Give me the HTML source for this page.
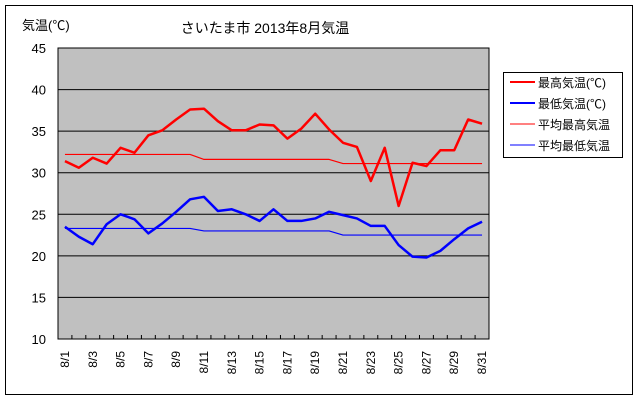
<!DOCTYPE html>
<html><head><meta charset="utf-8"><style>
body{margin:0;background:#fff;}
svg{display:block;font-family:"Liberation Sans","Noto Sans CJK JP",sans-serif;}
</style></head><body>
<svg id="chart" width="640" height="400">
<rect x="5.5" y="5.5" width="627" height="389" fill="#fff" stroke="#000"/>
<text x="265" y="33" font-size="14" text-anchor="middle">さいたま市 2013年8月気温</text>
<text x="22" y="30" font-size="13">気温(℃)</text>
<rect x="58" y="48" width="431" height="291" fill="#c0c0c0"/>
<g id="grid"></g><g id="series"></g><g id="axes"></g>
<g>
<rect x="503.5" y="72.5" width="119" height="85" fill="#fff" stroke="#000"/>
<line x1="510" y1="82" x2="535" y2="82" stroke="#ff0000" stroke-width="2"/>
<text x="538" y="87" font-size="12">最高気温(℃)</text>
<line x1="510" y1="103" x2="535" y2="103" stroke="#0000ff" stroke-width="2"/>
<text x="538" y="108" font-size="12">最低気温(℃)</text>
<line x1="510" y1="124" x2="535" y2="124" stroke="#ff0000" stroke-width="1"/>
<text x="538" y="129" font-size="12">平均最高気温</text>
<line x1="510" y1="145" x2="535" y2="145" stroke="#0000ff" stroke-width="1"/>
<text x="538" y="150" font-size="12">平均最低気温</text>
</g>
</svg>
<script>
const days=[];for(let i=1;i<=31;i++)days.push('8/'+i);
const maxTemp=[31.4,30.6,31.8,31.1,33.0,32.4,34.5,35.1,36.4,37.6,37.7,36.2,35.1,35.1,35.8,35.7,34.1,35.3,37.1,35.2,33.6,33.1,29.0,33.0,26.0,31.2,30.8,32.7,32.7,36.4,35.9];
const minTemp=[23.5,22.3,21.4,23.8,25.0,24.4,22.7,23.9,25.3,26.8,27.1,25.4,25.6,25.0,24.2,25.6,24.2,24.2,24.5,25.3,24.9,24.5,23.6,23.6,21.3,19.9,19.8,20.6,22.0,23.3,24.1];
const avgMax=[32.2,32.2,32.2,32.2,32.2,32.2,32.2,32.2,32.2,32.2,31.6,31.6,31.6,31.6,31.6,31.6,31.6,31.6,31.6,31.6,31.1,31.1,31.1,31.1,31.1,31.1,31.1,31.1,31.1,31.1,31.1];
const avgMin=[23.3,23.3,23.3,23.3,23.3,23.3,23.3,23.3,23.3,23.3,23.0,23.0,23.0,23.0,23.0,23.0,23.0,23.0,23.0,23.0,22.5,22.5,22.5,22.5,22.5,22.5,22.5,22.5,22.5,22.5,22.5];
const yTicks=[10,15,20,25,30,35,40,45];
const L=58,R=489,T=48,B=339,NS='http://www.w3.org/2000/svg';
const step=(R-L)/days.length;
const x=i=>L+step*(i+0.5);
const y=v=>B-(v-10)/35*(B-T);
function mk(t,a,p){const e=document.createElementNS(NS,t);for(const k in a)e.setAttribute(k,a[k]);p.appendChild(e);return e;}
const grid=document.getElementById('grid'),axes=document.getElementById('axes'),ser=document.getElementById('series');
yTicks.forEach(v=>{
  if(v>10&&v<45){const g=mk('line',{x1:L,x2:R,y1:y(v),y2:y(v),stroke:'#000'},grid);
  
  }
  const t=mk('text',{x:46,y:y(v)+5,'font-size':13,'text-anchor':'end'},axes);t.textContent=v;
  
  
});
mk('rect',{x:L,y:T,width:R-L,height:B-T,fill:'none',stroke:'#000'},axes);
days.forEach((d,i)=>{
  mk('line',{x1:L+step*i,x2:L+step*i,y1:B,y2:B-4,stroke:'#000'},axes);
  if(i%2==0){const t=mk('text',{transform:`translate(${x(i)+4},${B+12}) rotate(-90)`,'font-size':12,'text-anchor':'end'},axes);t.textContent=d;
  
  }
});
function line(data,color,w,name){
  const p=mk('polyline',{points:data.map((v,i)=>x(i)+','+y(v)).join(' '),fill:'none',stroke:color,'stroke-width':w,'stroke-linejoin':'round'},ser);
  
  
}
line(avgMax,'#ff0000',1.2,'avg-max-line');
line(avgMin,'#0000ff',1.2,'avg-min-line');
line(maxTemp,'#ff0000',2.5,'max-temp-line');
line(minTemp,'#0000ff',2.5,'min-temp-line');
</script>
</body></html>
